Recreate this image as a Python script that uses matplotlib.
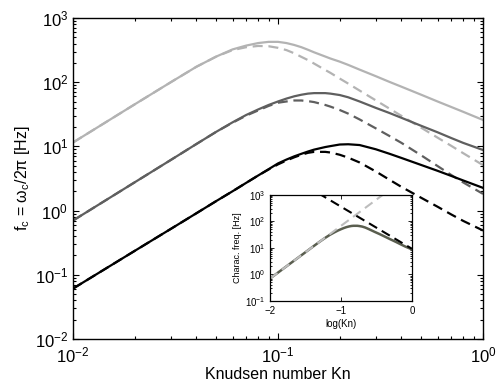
import numpy as np
import matplotlib
matplotlib.use("Agg")
import matplotlib.pyplot as plt
from matplotlib.ticker import LogLocator, NullFormatter, FixedLocator

plt.rcParams['font.family'] = ['Liberation Sans', 'DejaVu Sans']
plt.rcParams['mathtext.fontset'] = 'custom'
plt.rcParams['mathtext.rm'] = 'Liberation Sans'
plt.rcParams['mathtext.it'] = 'Liberation Sans:italic'
plt.rcParams['mathtext.bf'] = 'Liberation Sans:bold'

# Knudsen numbers at which the characteristic frequency is tabulated
kn = [0.01, 0.02, 0.03, 0.04, 0.05, 0.06, 0.07, 0.08, 0.09, 0.1,
      0.11, 0.12, 0.13, 0.14, 0.15, 0.17, 0.18, 0.2, 0.22, 0.25,
      0.3, 0.35, 0.4, 0.5, 0.6, 0.7, 0.8, 1.0]

# characteristic frequency f_c [Hz], three configurations (full and approximate models)
fc_light_solid = [11.5, 45.2, 100, 174, 251, 324, 372, 407, 425, 425,
                  407, 380, 351, 320, 292, 251, 234, 209, 186, 157,
                  124, 101, 85.1, 63.7, 50.1, 41.1, 34.6, 25.8]
fc_light_dash = [11.5, 45.2, 100, 174, 251, 316, 351, 367, 363, 343,
                 316, 282, 248, 221, 195, 155, 140, 114, 95.1, 74.1,
                 52.1, 38.7, 29.9, 19.5, 13.7, 10.2, 7.85, 5.11]
fc_mid_solid = [0.700, 2.76, 6.15, 10.9, 16.9, 23.7, 30.9, 37.6, 44.2, 50.1,
                55.6, 60.3, 63.8, 66.4, 67.6, 67.6, 66.4, 63.1, 58.2, 50.1,
                39.8, 33.1, 27.9, 20.9, 16.6, 13.5, 11.35, 8.79]
fc_mid_dash = [0.700, 2.76, 6.15, 10.9, 16.9, 23.4, 30.2, 36.3, 42.7, 47.9,
               50.1, 51.9, 51.9, 50.7, 49.0, 44.2, 41.7, 36.9, 32.4, 26.3,
               19.1, 14.5, 11.35, 7.24, 4.95, 3.59, 2.75, 1.82]
fc_dark_solid = [0.061, 0.236, 0.519, 0.910, 1.41, 2.00, 2.71, 3.52, 4.42, 5.43,
                 6.24, 7.00, 7.67, 8.32, 8.91, 9.77, 10.1, 10.7, 10.8, 10.5,
                 9.02, 7.67, 6.61, 5.13, 4.17, 3.47, 2.95, 2.26]
fc_dark_dash = [0.061, 0.236, 0.519, 0.910, 1.41, 2.00, 2.71, 3.52, 4.37, 5.25,
                6.03, 6.76, 7.41, 7.94, 8.22, 8.22, 8.04, 7.41, 6.68, 5.62,
                4.07, 3.02, 2.34, 1.58, 1.15, 0.871, 0.692, 0.490]

# inset: low- and high-Kn asymptotes of the middle configuration
inset_low_logkn = [-2.0, -0.3]
inset_low_f = [0.70, 1620]
inset_high_logkn = [-1.5, 0.0]
inset_high_f = [2200, 9.3]

c_light = '#b3b3b3'
c_mid = '#5f5f5f'
c_dark = '#000000'
c_inset = '#5a5e4f'
dash = (0, (4.5, 2.6))

fig = plt.figure(figsize=(4.98, 3.87), dpi=100)
ax = fig.add_axes([0.1466, 0.124, 0.8233, 0.8295])

lw = 1.6
ax.plot(kn, fc_light_solid, color=c_light, lw=lw)
ax.plot(kn, fc_light_dash, color=c_light, lw=lw, ls=dash)
ax.plot(kn, fc_mid_solid, color=c_mid, lw=lw)
ax.plot(kn, fc_mid_dash, color=c_mid, lw=lw, ls=dash)
ax.plot(kn, fc_dark_solid, color=c_dark, lw=lw)
ax.plot(kn, fc_dark_dash, color=c_dark, lw=lw, ls=dash)

ax.set_xscale('log')
ax.set_yscale('log')
ax.set_xlim(1e-2, 1)
ax.set_ylim(1e-2, 1e3)
ax.xaxis.set_major_locator(LogLocator(base=10, numticks=10))
ax.yaxis.set_major_locator(LogLocator(base=10, numticks=10))
ax.xaxis.set_minor_locator(LogLocator(base=10, subs=np.arange(2, 10), numticks=20))
ax.yaxis.set_minor_locator(LogLocator(base=10, subs=np.arange(2, 10), numticks=20))
ax.xaxis.set_minor_formatter(NullFormatter())
ax.yaxis.set_minor_formatter(NullFormatter())
ax.tick_params(which='both', direction='in', top=True, right=True, labelsize=12, width=0.8)
ax.tick_params(which='major', length=4.5)
ax.tick_params(which='minor', length=2.5)
ax.tick_params(axis='x', pad=5)
for s in ax.spines.values():
    s.set_linewidth(1.0)
ax.set_xlabel('Knudsen number Kn', fontsize=11.5, labelpad=1)
ax.set_ylabel(r'f$_\mathrm{c}$ = ω$_\mathrm{c}$/2π [Hz]', fontsize=11.5, labelpad=2)

# inset
axi = fig.add_axes([0.542, 0.222, 0.285, 0.275])
logkn = np.log10(kn)
axi.plot(logkn, fc_mid_solid, color=c_inset, lw=1.8)
axi.plot(inset_low_logkn, inset_low_f, color='#bdbdbd', lw=1.5, ls=(0, (4.5, 2.6)))
axi.plot(inset_high_logkn, inset_high_f, color='black', lw=1.5, ls=(0, (4.5, 2.6)))
axi.set_yscale('log')
axi.set_xlim(-2, 0)
axi.set_ylim(1e-1, 1e3)
axi.xaxis.set_major_locator(FixedLocator([-2, -1, 0]))
axi.yaxis.set_major_locator(LogLocator(base=10, numticks=10))
axi.yaxis.set_minor_locator(LogLocator(base=10, subs=np.arange(2, 10), numticks=20))
axi.yaxis.set_minor_formatter(NullFormatter())
axi.set_xticklabels(['\u22122', '\u22121', '0'])
axi.tick_params(which='both', direction='in', top=True, right=True, labelsize=7, width=0.6)
axi.tick_params(which='major', length=3)
axi.tick_params(which='minor', length=1.5)
for s in axi.spines.values():
    s.set_linewidth(0.9)
axi.set_xlabel('log(Kn)', fontsize=7, labelpad=2)
axi.set_ylabel('Charac. freq. [Hz]', fontsize=6.5, labelpad=2)

fig.savefig('out.png', dpi=100)
